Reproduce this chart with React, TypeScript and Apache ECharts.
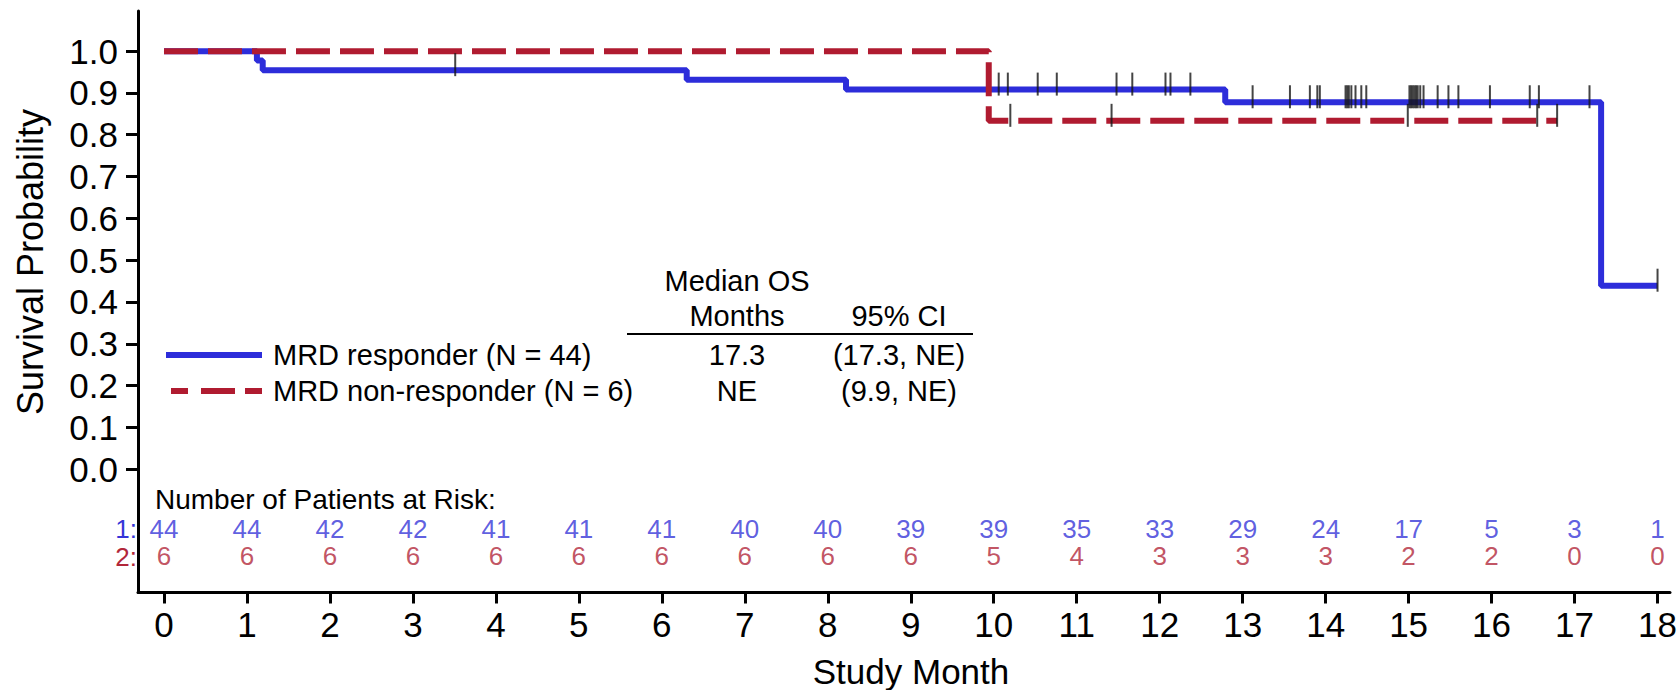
import React, { useEffect, useRef } from "react";
import * as echarts from "echarts";

// ---------- data ----------
const monthTicks = [0, 1, 2, 3, 4, 5, 6, 7, 8, 9, 10, 11, 12, 13, 14, 15, 16, 17, 18];
const probTicks = [0, 0.1, 0.2, 0.3, 0.4, 0.5, 0.6, 0.7, 0.8, 0.9, 1.0];

// KM steps: [time, survival after that time]
const responderSteps: [number, number][] = [
  [0, 1],
  [1.12, 0.9773],
  [1.19, 0.9545],
  [6.3, 0.9313],
  [8.22, 0.908],
  [12.79, 0.8777],
  [17.32, 0.4389],
  [18.0, 0.4389],
];
const nonResponderSteps: [number, number][] = [
  [0, 1],
  [9.94, 0.8333],
  [16.79, 0.8333],
];

const responderCensors = [
  3.51, 10.06, 10.17, 10.53, 10.76, 11.48, 11.67, 12.07, 12.13, 12.37, 13.12, 13.57, 13.81, 13.9, 13.93,
  14.24, 14.26, 14.28, 14.31, 14.36, 14.43, 14.49, 15.01, 15.03, 15.05, 15.07, 15.09, 15.11, 15.14, 15.18,
  15.35, 15.48, 15.6, 15.98, 16.46, 16.57, 17.18, 18.0,
];
const nonResponderCensors = [10.2, 11.42, 14.99, 16.55, 16.79];

const riskResponder = [44, 44, 42, 42, 41, 41, 41, 40, 40, 39, 39, 35, 33, 29, 24, 17, 5, 3, 1];
const riskNonResponder = [6, 6, 6, 6, 6, 6, 6, 6, 6, 6, 5, 4, 3, 3, 3, 2, 2, 0, 0];

const legendNames = ["MRD responder (N = 44)", "MRD non-responder (N = 6)"];
const medianMonths = ["17.3", "NE"];
const medianCI = ["(17.3, NE)", "(9.9, NE)"];

// ---------- style ----------
const BLUE = "#2D2DDA";
const RED = "#B01B30";
const BLUE_TXT = "#3535D8";
const RED_TXT = "#B2273A";
const FONT = "'Liberation Sans', Arial, Helvetica, sans-serif";

function survivalAt(steps: [number, number][], t: number): number {
  let s = steps[0][1];
  for (const [x, v] of steps) {
    if (x <= t) s = v;
  }
  return s;
}

const RISK_ROW1_Y = -0.143;
const RISK_ROW2_Y = -0.2088;
const RISK_FONT = 26;

export default function App() {
  const ref = useRef<HTMLDivElement>(null);

  useEffect(() => {
    if (!ref.current) return;
    const chart = echarts.init(ref.current, undefined, { renderer: "svg" });

    const censorSymbol = {
      type: "scatter" as const,
      symbol: "rect",
      symbolSize: [2, 23],
      symbolOffset: [0, -5.5],
      itemStyle: { color: "#151515" },
      silent: true,
      z: 6,
    };

    const textBase = { fontFamily: FONT, fill: "#000" };
    const t = (x: number, y: number, text: string, fontSize: number, align: string, extra: any = {}) => ({
      type: "text",
      x,
      y,
      ...extra,
      style: {
        ...textBase,
        text,
        fontSize,
        align,
        verticalAlign: "middle",
        textAlign: align,
        textVerticalAlign: "middle",
        ...(extra.style || {}),
      },
    });

    chart.setOption({
      animation: false,
      backgroundColor: "#fff",
      textStyle: { fontFamily: FONT },
      grid: { left: 138, right: 9, top: 11, bottom: 97.5 },
      xAxis: {
        type: "value",
        min: -0.313,
        max: 18.15,
        axisLine: { show: true, onZero: false, lineStyle: { color: "#000", width: 3 } },
        axisTick: { show: true, customValues: monthTicks, length: 11, lineStyle: { color: "#000", width: 3 } },
        axisLabel: {
          customValues: monthTicks,
          fontSize: 35,
          color: "#000",
          margin: 14,
          fontFamily: FONT,
        },
        splitLine: { show: false },
      },
      yAxis: {
        type: "value",
        min: -0.295,
        max: 1.096,
        axisLine: { show: true, onZero: false, lineStyle: { color: "#000", width: 3 } },
        axisTick: { show: true, customValues: probTicks, length: 12, lineStyle: { color: "#000", width: 3 } },
        axisLabel: {
          customValues: probTicks,
          fontSize: 35,
          color: "#000",
          margin: 20,
          fontFamily: FONT,
          formatter: (v: number) => v.toFixed(1),
        },
        splitLine: { show: false },
      },
      series: [
        {
          type: "line",
          name: legendNames[0],
          data: responderSteps,
          step: "end",
          symbol: "none",
          lineStyle: { color: BLUE, width: 6 },
          z: 2,
          silent: true,
        },
        {
          type: "line",
          name: legendNames[1],
          data: nonResponderSteps,
          step: "end",
          symbol: "none",
          lineStyle: { color: RED, width: 6, type: [34, 10], cap: "butt" },
          z: 3,
          silent: true,
        },
        {
          ...censorSymbol,
          data: responderCensors.map((c) => [c, survivalAt(responderSteps, c)]),
        },
        {
          ...censorSymbol,
          data: nonResponderCensors.map((c) => [c, survivalAt(nonResponderSteps, c)]),
        },
        {
          type: "scatter",
          symbolSize: 0,
          silent: true,
          data: monthTicks.map((m, i) => [m, RISK_ROW1_Y, riskResponder[i]]),
          label: {
            show: true,
            position: "inside",
            formatter: (p: any) => String(p.value[2]),
            color: BLUE_TXT,
            fontSize: RISK_FONT,
            lineHeight: RISK_FONT,
            fontFamily: FONT,
          },
        },
        {
          type: "scatter",
          symbolSize: 0,
          silent: true,
          data: monthTicks.map((m, i) => [m, RISK_ROW2_Y, riskNonResponder[i]]),
          label: {
            show: true,
            position: "inside",
            formatter: (p: any) => String(p.value[2]),
            color: RED_TXT,
            fontSize: RISK_FONT,
            lineHeight: RISK_FONT,
            fontFamily: FONT,
          },
        },
      ],
      graphic: [
        // axis titles
        t(30, 262, "Survival Probability", 36, "center", { rotation: Math.PI / 2 }),
        t(911, 671, "Study Month", 35, "center"),
        // at-risk header
        t(155, 499, "Number of Patients at Risk:", 28, "left"),
        t(137, 529, "1:", RISK_FONT, "right", { style: { fill: BLUE_TXT, lineHeight: RISK_FONT } }),
        t(137, 556.5, "2:", RISK_FONT, "right", { style: { fill: RED_TXT, lineHeight: RISK_FONT } }),
        // legend lines
        {
          type: "line",
          shape: { x1: 166, y1: 355, x2: 262, y2: 355 },
          style: { stroke: BLUE, lineWidth: 6 },
        },
        {
          type: "line",
          shape: { x1: 171, y1: 391, x2: 262, y2: 391 },
          style: { stroke: RED, lineWidth: 6, lineDash: [17, 13, 34, 10] },
        },
        t(273, 355, legendNames[0], 29, "left"),
        t(273, 391, legendNames[1], 29, "left"),
        // median table
        t(737, 281, "Median OS", 29, "center"),
        t(737, 316, "Months", 29, "center"),
        t(899, 316, "95% CI", 29, "center"),
        {
          type: "line",
          shape: { x1: 627, y1: 334, x2: 973, y2: 334 },
          style: { stroke: "#000", lineWidth: 2 },
        },
        t(737, 355, medianMonths[0], 29, "center"),
        t(899, 355, medianCI[0], 29, "center"),
        t(737, 391, medianMonths[1], 29, "center"),
        t(899, 391, medianCI[1], 29, "center"),
      ],
    });

    return () => chart.dispose();
  }, []);

  return (
    <div
      ref={ref}
      style={{ position: "fixed", left: 0, top: 0, width: 1680, height: 690, background: "#fff" }}
    />
  );
}
